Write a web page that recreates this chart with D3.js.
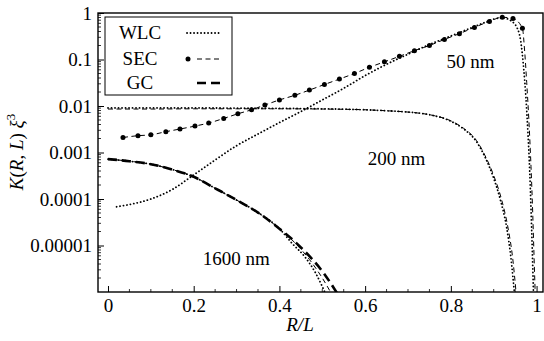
<!DOCTYPE html>
<html>
<head>
<meta charset="utf-8">
<script src="https://cdn.jsdelivr.net/npm/d3@7"></script>
<style>
  body { margin: 0; background: #fff; }
  #chart text { font-family: 'Liberation Serif', 'Times New Roman', serif !important; }
</style>
</head>
<body>
<svg id="chart" width="544" height="341"></svg>
<script>
// x = R/L, values = K(R,L) xi^3
const wlc50X = [0.02, 0.05, 0.1, 0.15, 0.2, 0.25, 0.3, 0.35, 0.4, 0.45, 0.5, 0.55, 0.6, 0.65, 0.7, 0.75, 0.8, 0.85, 0.88, 0.9, 0.92, 0.94, 0.955, 0.963, 0.97, 0.975, 0.98, 0.984, 0.987, 0.99, 0.993];
const wlc50Y = [6.8e-5, 7.6e-5, 1.0e-4, 1.6e-4, 3.3e-4, 6.9e-4, 1.4e-3, 2.5e-3, 4.4e-3, 7.6e-3, 1.35e-2, 2.4e-2, 4.5e-2, 7.9e-2, 0.13, 0.21, 0.32, 0.49, 0.63, 0.74, 0.79, 0.68, 0.47, 0.25, 0.063, 0.016, 2.5e-3, 4e-4, 6.3e-5, 7.9e-6, 8e-7];

const sec50MarkX = [0.035, 0.07, 0.1, 0.135, 0.168, 0.203, 0.235, 0.27, 0.303, 0.335, 0.366, 0.4, 0.436, 0.47, 0.505, 0.54, 0.575, 0.61, 0.645, 0.68, 0.715, 0.75, 0.785, 0.82, 0.855, 0.89, 0.92, 0.945, 0.967];
const sec50MarkY = [2.1e-3, 2.3e-3, 2.4e-3, 2.8e-3, 3.2e-3, 3.7e-3, 4.3e-3, 5.4e-3, 6.8e-3, 8.3e-3, 1.05e-2, 1.35e-2, 1.7e-2, 2.2e-2, 2.9e-2, 3.8e-2, 5.0e-2, 6.8e-2, 8.9e-2, 0.117, 0.155, 0.2, 0.27, 0.36, 0.49, 0.66, 0.81, 0.76, 0.47];
const sec50TailX = [0.972, 0.977, 0.982, 0.987, 0.991, 0.994, 0.997];
const sec50TailY = [0.16, 0.032, 5e-3, 5e-4, 5e-5, 6.3e-6, 8e-7];

const wlc200X = [0, 0.1, 0.2, 0.3, 0.4, 0.5, 0.6, 0.65, 0.7, 0.75, 0.8, 0.83, 0.86, 0.88, 0.9, 0.915, 0.93, 0.94, 0.949];
const wlc200Y = [9.1e-3, 9.1e-3, 9.1e-3, 9.0e-3, 8.9e-3, 8.7e-3, 8.3e-3, 7.9e-3, 7.4e-3, 6.5e-3, 4.7e-3, 3.2e-3, 1.7e-3, 7.9e-4, 2.8e-4, 1e-4, 2.5e-5, 5.6e-6, 8e-7];
const sec200X = [0, 0.1, 0.2, 0.3, 0.4, 0.5, 0.6, 0.65, 0.7, 0.75, 0.8, 0.83, 0.86, 0.88, 0.9, 0.918, 0.933, 0.944, 0.953];
const sec200Y = [8.6e-3, 8.6e-3, 8.7e-3, 8.7e-3, 8.7e-3, 8.6e-3, 8.3e-3, 7.9e-3, 7.4e-3, 6.5e-3, 4.8e-3, 3.3e-3, 1.8e-3, 8.5e-4, 3.2e-4, 1e-4, 2.5e-5, 5.6e-6, 8e-7];

const gc1600X = [0, 0.05, 0.1, 0.15, 0.2, 0.25, 0.3, 0.35, 0.4, 0.45, 0.5, 0.536];
const gc1600Y = [7.2e-4, 6.5e-4, 5.6e-4, 4.3e-4, 3.0e-4, 1.7e-4, 9.5e-5, 5.1e-5, 2.3e-5, 9.1e-6, 2.8e-6, 9e-7];
const wlc1600X = [0, 0.05, 0.1, 0.15, 0.2, 0.25, 0.3, 0.35, 0.4, 0.43, 0.46, 0.485, 0.508];
const wlc1600Y = [7.2e-4, 6.5e-4, 5.6e-4, 4.3e-4, 3.0e-4, 1.7e-4, 9.5e-5, 5.1e-5, 2.3e-5, 1.1e-5, 5.6e-6, 2.5e-6, 9e-7];
const sec1600X = [0, 0.05, 0.1, 0.15, 0.2, 0.25, 0.3, 0.35, 0.4, 0.44, 0.47, 0.5, 0.522];
const sec1600Y = [7.2e-4, 6.5e-4, 5.6e-4, 4.3e-4, 3.0e-4, 1.7e-4, 9.5e-5, 5.1e-5, 2.3e-5, 1.05e-5, 5e-6, 2e-6, 9e-7];

const xTicks = [0, 0.2, 0.4, 0.6, 0.8, 1];
const xTickLabels = ["0", "0.2", "0.4", "0.6", "0.8", "1"];
const yTicks = [1, 0.1, 0.01, 0.001, 0.0001, 0.00001];
const yTickLabels = ["1", "0.1", "0.01", "0.001", "0.0001", "0.00001"];
const curveLabels = ["50 nm", "200 nm", "1600 nm"];
const legendNames = ["WLC", "SEC", "GC"];

const FS = 19;
const svg = d3.select("#chart");
const m = { left: 98, right: 543, top: 13, bottom: 292 };

const x = d3.scaleLinear().domain([-0.0233, 1.015]).range([m.left, m.right]);
const y = d3.scaleLog().domain([1e-6, 1]).range([m.bottom, m.top]);

const zip = (xs, ys) => xs.map((v, i) => [v, ys[i]]);
const line = d3.line().x(d => x(d[0])).y(d => y(d[1])).curve(d3.curveMonotoneX);

svg.append("clipPath").attr("id", "clip")
  .append("rect").attr("x", m.left).attr("y", m.top).attr("width", m.right - m.left).attr("height", m.bottom - m.top);

const plot = svg.append("g").attr("clip-path", "url(#clip)");

const styles = {
  wlc: { w: 1.8, dash: "0.1,3.4", cap: "round" },
  sec: { w: 1, dash: "5,3.5", cap: "butt" },
  gc: { w: 2.6, dash: "9,5", cap: "butt" }
};
function drawCurve(pts, st) {
  plot.append("path").datum(pts)
    .attr("d", line)
    .attr("fill", "none").attr("stroke", "#000")
    .attr("stroke-width", st.w)
    .attr("stroke-dasharray", st.dash)
    .attr("stroke-linecap", st.cap);
}

drawCurve(zip(gc1600X, gc1600Y), styles.gc);
drawCurve(zip(sec1600X, sec1600Y), styles.sec);
drawCurve(zip(wlc1600X, wlc1600Y), styles.wlc);
drawCurve(zip(sec200X, sec200Y), styles.sec);
drawCurve(zip(wlc200X, wlc200Y), styles.wlc);
drawCurve(zip(sec50MarkX, sec50MarkY).concat(zip(sec50TailX, sec50TailY)), styles.sec);
drawCurve(zip(wlc50X, wlc50Y), styles.wlc);

plot.selectAll("circle.sec").data(zip(sec50MarkX, sec50MarkY)).enter()
  .append("circle").attr("class", "sec")
  .attr("cx", d => x(d[0])).attr("cy", d => y(d[1])).attr("r", 2.5).attr("fill", "#000");

// axes: ticks point inward
const xAxis = d3.axisBottom(x).tickValues(xTicks).tickFormat((d, i) => xTickLabels[i])
  .tickSizeInner(-6).tickSizeOuter(0).tickPadding(7);
const gx = svg.append("g").attr("transform", `translate(0,${m.bottom})`).call(xAxis)
  .attr("font-family", "Liberation Serif").attr("font-size", FS);
gx.select(".domain").remove();

const xMinor = d3.range(0, 21).map(i => i * 0.05).filter(v => !xTicks.includes(+v.toFixed(2)));
svg.append("g").selectAll("line").data(xMinor).enter().append("line")
  .attr("x1", d => x(d)).attr("x2", d => x(d))
  .attr("y1", m.bottom).attr("y2", m.bottom - 3).attr("stroke", "#000").attr("stroke-width", 0.8);

const yAxis = d3.axisLeft(y).tickValues(yTicks).tickFormat((d, i) => yTickLabels[i])
  .tickSizeInner(-6).tickSizeOuter(0).tickPadding(6);
const gy = svg.append("g").attr("transform", `translate(${m.left},0)`).call(yAxis)
  .attr("font-family", "Liberation Serif").attr("font-size", FS);
gy.select(".domain").remove();

const yMinor = [];
[1e-6, 1e-5, 1e-4, 1e-3, 1e-2, 1e-1].forEach(dec => {
  for (let k = 2; k <= 9; k++) yMinor.push(dec * k);
});
svg.append("g").selectAll("line").data(yMinor).enter().append("line")
  .attr("x1", m.left).attr("x2", m.left + 3)
  .attr("y1", d => y(d)).attr("y2", d => y(d)).attr("stroke", "#000").attr("stroke-width", 0.8);

svg.selectAll(".tick line").attr("stroke-width", 1);

// frame
svg.append("rect").attr("x", m.left).attr("y", m.top).attr("width", m.right - m.left).attr("height", m.bottom - m.top)
  .attr("fill", "none").attr("stroke", "#000").attr("stroke-width", 1.4);

const labels = svg.append("g").attr("font-family", "Liberation Serif").attr("font-size", FS).attr("fill", "#000");

// axis titles
labels.append("text").attr("x", 300).attr("y", 331).attr("text-anchor", "middle")
  .attr("font-style", "italic").text("R/L");

const yt = labels.append("text").attr("transform", "translate(23,152) rotate(-90)")
  .attr("text-anchor", "middle");
yt.append("tspan").attr("font-style", "italic").text("K");
yt.append("tspan").text("(");
yt.append("tspan").attr("font-style", "italic").text("R");
yt.append("tspan").text(", ");
yt.append("tspan").attr("font-style", "italic").text("L");
yt.append("tspan").text(") ");
yt.append("tspan").attr("font-style", "italic").text("ξ");
yt.append("tspan").attr("font-size", 13).attr("dy", -8).text("3");

// curve labels
const labelPos = [[0.79, 0.066], [0.606, 5.4e-4], [0.221, 3.8e-6]];
curveLabels.forEach((t, i) => {
  labels.append("text").attr("x", x(labelPos[i][0])).attr("y", y(labelPos[i][1])).text(t);
});

// legend
const lg = svg.append("g").attr("font-family", "Liberation Serif").attr("font-size", FS);
lg.append("rect").attr("x", 105).attr("y", 17).attr("width", 127).attr("height", 78)
  .attr("fill", "#fff").attr("stroke", "#000").attr("stroke-width", 1);
const legY = [33, 59, 83];
const legStyles = [styles.wlc, styles.sec, styles.gc];
legendNames.forEach((n, i) => {
  lg.append("text").attr("x", 140).attr("y", legY[i] + 6).attr("text-anchor", "middle").text(n);
  const st = legStyles[i];
  lg.append("line").attr("x1", i === 0 ? 187 : 197).attr("x2", 221)
    .attr("y1", legY[i]).attr("y2", legY[i])
    .attr("stroke", "#000").attr("stroke-width", st.w)
    .attr("stroke-dasharray", st.dash).attr("stroke-linecap", st.cap);
});
lg.append("circle").attr("cx", 188).attr("cy", legY[1]).attr("r", 2.5).attr("fill", "#000");
</script>
</body>
</html>
